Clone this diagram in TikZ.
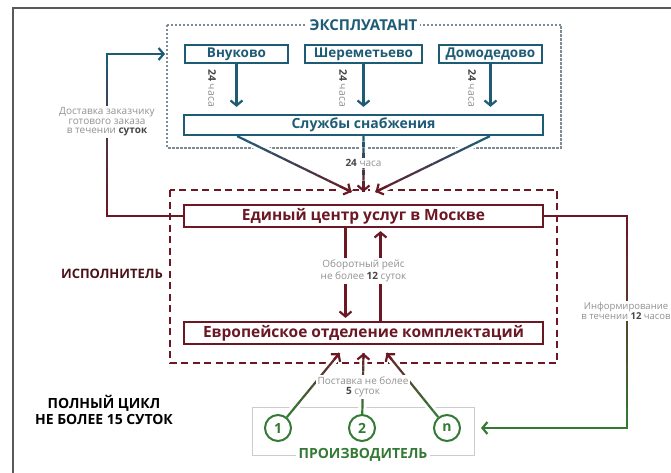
\documentclass[tikz,border=0pt]{standalone}
\usepackage{fontspec}
\setmainfont{Open Sans}
\usetikzlibrary{calc,arrows.meta}

\definecolor{sblue}{RGB}{30,92,118}
\definecolor{sred}{RGB}{108,24,36}
\definecolor{sgreen}{RGB}{52,122,52}
\definecolor{notegray}{RGB}{145,145,145}
\definecolor{notedark}{RGB}{70,70,70}
\definecolor{framegray}{RGB}{125,140,148}

\pgfdeclarelayer{bg}
\pgfdeclarelayer{links}
\pgfsetlayers{bg,links,main}

% colour running from #3 to #4 along (#1) -- (#2), tip style #5
\newcommand{\gradlink}[5]{%
  \foreach \k [evaluate=\k as \pct using int(100-10*\k)] in {0,...,9}
    \draw[link, #3!\pct!#4] ($(#1)!{\k/10}!(#2)$) -- ($(#1)!{(\k+1)/10}!(#2)$);
  \draw[link, #5, #4] ($(#1)!0.9!(#2)$) -- (#2);
}

\begin{document}
\begin{tikzpicture}[x=1pt, y=-1pt,
    bluebox/.style={rectangle, draw=sblue, line width=2.2pt, fill=white, inner sep=0pt, minimum height=18pt, text=sblue, font=\bfseries\fontsize{13.5}{15}\selectfont},
    redbox/.style={rectangle, draw=sred, line width=2.2pt, fill=white, inner sep=0pt, minimum width=359pt, minimum height=22pt, text=sred, font=\bfseries\fontsize{15.5}{17}\selectfont},
    prod/.style={circle, draw=sgreen, line width=2pt, fill=white, minimum size=26pt, inner sep=0pt, text=sgreen, font=\bfseries\fontsize{14}{15}\selectfont},
    note/.style={fill=white, text=notegray, align=center, inner sep=1.5pt, font=\fontsize{10}{12.5}\selectfont},
    title/.style={fill=white, inner sep=3pt, font=\bfseries\fontsize{14}{16}\selectfont},
    link/.style={line width=2.2pt},
    tip/.style={-{Straight Barb[length=5pt, width=12pt]}},
    halo/.style={draw=white, line width=8pt}
]
\useasboundingbox (0,0) rectangle (671,473);

% outer frame
\draw[gray!70!black, line width=1.5pt] (13,473) -- (13,8) -- (671,8);

% Operator
\node[bluebox, minimum width=103pt] (vnu) at (236.5,54) {Внуково};
\node[bluebox, minimum width=117pt] (sher) at (363.5,54) {Шереметьево};
\node[bluebox, minimum width=103pt] (dom) at (490.5,54) {Домодедово};
\node[bluebox, minimum width=359pt, minimum height=20pt, font=\bfseries\fontsize{14}{16}\selectfont] (sup) at (363.5,125) {Службы снабжения};
\node[title, text=sblue, font=\bfseries\fontsize{15}{17}\selectfont] (oper) at (363.5,25) {ЭКСПЛУАТАНТ};

% Executor
\node[redbox] (hub) at (363.5,216) {Единый центр услуг в Москве};
\node[redbox] (euro) at (363.5,333) {Европейское отделение комплектаций};
\node[title, fill=none, text=sred!70!black, font=\bfseries\fontsize{13}{15}\selectfont] (exec) at (112,274) {ИСПОЛНИТЕЛЬ};

% Producers
\node[prod] (c1) at (278,428) {1};
\node[prod] (c2) at (362,428) {2};
\node[prod] (cn) at (447,428) {n};
\node[title, text=sgreen] (prodt) at (363,455) {ПРОИЗВОДИТЕЛЬ};

\node[title, fill=none, align=center, font=\bfseries\fontsize{14}{16}\selectfont] (cycle) at (104,410) {ПОЛНЫЙ ЦИКЛ\\НЕ БОЛЕЕ 15 СУТОК};

% group frames
\begin{pgfonlayer}{bg}
\draw[framegray, line width=1.1pt, dash pattern=on 2.5pt off 1.5pt] (167,25) rectangle (561,148);
\draw[sred, line width=2pt, dash pattern=on 7pt off 4.5pt] (170,190) rectangle (557,363);
\draw[gray!40, line width=0.8pt] (252,407) rectangle (474,455);
\end{pgfonlayer}

% airports -> supply service
\foreach \a/\x in {vnu/212, sher/343, dom/472} {
    \draw[link, sblue, tip, shorten >=7pt] (\a.south) -- (\a.south |- sup.north);
    \node[note, fill=none, rotate=-90, font=\fontsize{10.5}{12}\selectfont] (h\a) at (\x,88) {{\bfseries\color{notedark}24} часа};
}

\coordinate (s1) at ($(sup.south west)!0.15!(sup.south east)$);
\coordinate (s2) at (sup.south);
\coordinate (s3) at ($(sup.south west)!0.85!(sup.south east)$);
\coordinate (t1) at ($(hub.north)+(-12,-12)$);
\coordinate (t2) at ($(hub.north)+(0,-12)$);
\coordinate (t3) at ($(hub.north)+(12,-12)$);

\coordinate (p1) at ($(euro.south)+(-24,8)$);
\coordinate (p2) at ($(euro.south)+(0,8)$);
\coordinate (p3) at ($(euro.south)+(23,8)$);
\coordinate (q1) at ($(c1)!14pt!(p1)$);
\coordinate (q2) at ($(c2)!14pt!(p2)$);
\coordinate (q3) at ($(cn)!14pt!(p3)$);

\coordinate (dl1) at (107,216);
\coordinate (dl2) at (107,54);
\coordinate (dl3) at (165,54);
\coordinate (dr1) at (627,216);
\coordinate (dr2) at (627,428);
\coordinate (dr3) at (481,428);

\begin{pgfonlayer}{links}
% supply -> hub
\foreach \i in {1,2,3} {
    \draw[halo] (s\i) -- (t\i);
    \gradlink{s\i}{t\i}{sblue}{sred}{tip}
}
% producers -> european office
\foreach \i in {1,2,3} {
    \draw[halo] (q\i) -- (p\i);
    \gradlink{q\i}{p\i}{sgreen}{sred}{tip}
}
% delivery to customer
\gradlink{dl1}{dl2}{sred}{sblue}{}
\draw[link, sred, line cap=rect] (hub.west) -- (dl1);
\draw[link, sblue, tip, line cap=rect] (dl2) -- (dl3);
% informing producers
\gradlink{dr1}{dr2}{sred}{sgreen}{}
\draw[link, sred, line cap=rect] (hub.east) -- (dr1);
\draw[link, sgreen, tip, line cap=rect] (dr2) -- (dr3);
\end{pgfonlayer}

% round trip
\coordinate (d1) at ($(hub.south)+(-18,0)$);
\coordinate (d2) at ($(euro.north)+(-18,0)$);
\coordinate (u1) at ($(euro.north)+(17,0)$);
\coordinate (u2) at ($(hub.south)+(17,0)$);
\draw[link, sred, tip, shorten >=3pt] (d1) -- (d2);
\draw[link, sred, tip, shorten >=3pt] (u1) -- (u2);

% Labels
\node[note] (n24) at (363.5,163) {{\bfseries\color{notedark}24} часа};
\node[note, font=\fontsize{10}{9.5}\selectfont] (deliv) at (107,122) {Доставка заказчику\\готового заказа\\в течении {\bfseries\color{notedark}суток}};
\node[note] (trip) at (363.5,271) {Оборотный рейс\\не более {\bfseries\color{notedark}12} суток};
\node[note, font=\fontsize{9.5}{10.5}\selectfont] (inform) at (626,311) {Информирование\\в течении {\bfseries\color{notedark}12} часов};
\node[note, font=\fontsize{10}{10}\selectfont] (deliver) at (363,387) {Поставка не более\\{\bfseries\color{notedark}5} суток};
\end{tikzpicture}
\end{document}
